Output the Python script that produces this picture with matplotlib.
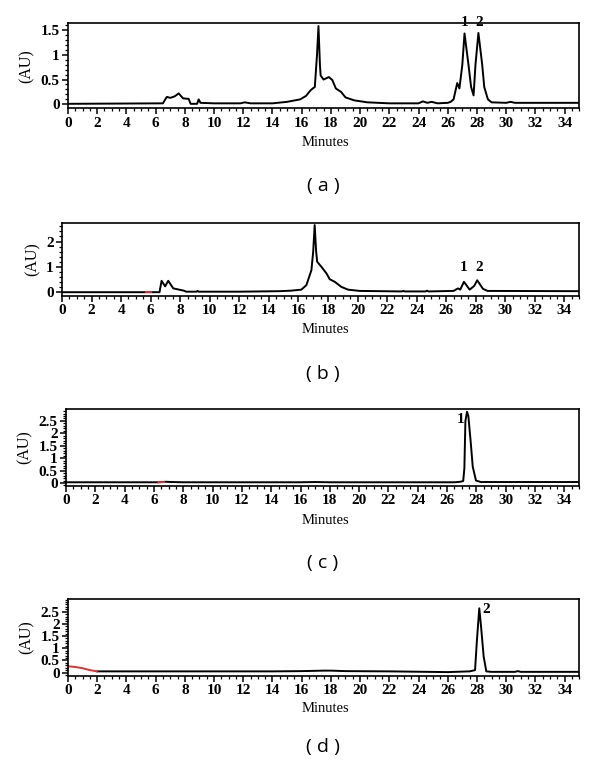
import matplotlib
matplotlib.use("Agg")
import matplotlib.pyplot as plt
from matplotlib.ticker import MultipleLocator

plt.rcParams['font.family'] = ['Liberation Serif', 'DejaVu Serif']

# chromatogram (a)
ta = [0, 6.5, 6.7, 6.78, 7.0, 7.3, 7.58, 7.88, 8.26, 8.4, 8.84, 8.95, 9.07, 10, 11.8, 12.1, 12.5,
      14, 15, 15.9, 16.3, 16.6, 16.76, 16.9, 17.05, 17.15, 17.25, 17.3, 17.5, 17.86, 18.1, 18.34,
      18.7, 19.0, 19.6, 20.5, 22, 24.0, 24.3, 24.6, 24.9, 25.3, 26.0, 26.2, 26.4, 26.65, 26.8,
      27.0, 27.15, 27.42, 27.6, 27.77, 27.9, 28.1, 28.36, 28.5, 28.75, 29.0, 30.0, 30.3, 30.6, 35]
va = [0.01, 0.02, 0.12, 0.15, 0.13, 0.16, 0.22, 0.12, 0.11, 0.01, 0.01, 0.1, 0.03, 0.02, 0.02, 0.04, 0.02,
      0.02, 0.05, 0.1, 0.17, 0.28, 0.32, 0.35, 1.0, 1.58, 0.8, 0.58, 0.5, 0.55, 0.49, 0.32,
      0.25, 0.14, 0.08, 0.04, 0.02, 0.02, 0.06, 0.03, 0.05, 0.02, 0.03, 0.05, 0.1, 0.43, 0.32,
      0.8, 1.43, 0.8, 0.35, 0.18, 0.8, 1.44, 0.8, 0.35, 0.1, 0.04, 0.03, 0.05, 0.03, 0.03]

# chromatogram (b)
tb = [0, 5.7, 6.0, 6.6, 6.74, 6.98, 7.19, 7.53, 8.25, 8.4, 9.1, 9.17, 9.25, 12, 14.74, 15.5, 16.2,
      16.54, 16.88, 17.0, 17.1, 17.2, 17.27, 17.56, 17.9, 18.12, 18.46, 18.9, 19.36, 20.15, 23.0,
      23.1, 23.2, 24.6, 24.7, 24.8, 26.5, 26.8, 26.95, 27.2, 27.59, 27.9, 28.1, 28.49, 28.8, 35]
vb = [0.0, 0.0, 0.0, 0.0, 0.45, 0.23, 0.45, 0.15, 0.06, 0.02, 0.02, 0.05, 0.02, 0.02, 0.04, 0.06, 0.1,
      0.28, 0.87, 1.6, 2.65, 1.6, 1.2, 1.0, 0.74, 0.51, 0.41, 0.21, 0.1, 0.05, 0.03,
      0.05, 0.03, 0.03, 0.06, 0.03, 0.05, 0.15, 0.1, 0.41, 0.1, 0.25, 0.47, 0.13, 0.05, 0.04]
tb_red = [5.7, 6.0]
vb_red = [0.0, 0.0]

# chromatogram (c)
tc = [0, 6.3, 6.8, 7.2, 8, 16, 17, 18, 26.5, 26.9, 27.1, 27.18, 27.25, 27.36, 27.45, 27.6, 27.75,
      27.97, 28.3, 35]
vc = [0.03, 0.03, 0.05, 0.04, 0.03, 0.03, 0.04, 0.03, 0.03, 0.05, 0.08, 0.6, 2.5, 2.87, 2.7, 1.73, 0.66,
      0.1, 0.04, 0.04]
tc_red = [6.3, 6.7]
vc_red = [0.03, 0.04]

# chromatogram (d)
td = [2.0, 5, 10, 14, 16, 17.5, 18, 19, 22, 26, 27.5, 27.87, 28.0, 28.16, 28.28, 28.46, 28.64, 29,
      30.6, 30.8, 31.0, 35]
vd = [0.05, 0.05, 0.05, 0.05, 0.06, 0.08, 0.08, 0.06, 0.05, 0.02, 0.05, 0.1, 1.34, 2.64, 1.9, 0.66, 0.05,
      0.03, 0.03, 0.06, 0.03, 0.03]
td_red = [0, 0.5, 1.0, 1.5, 2.0]
vd_red = [0.26, 0.23, 0.18, 0.1, 0.05]

fig = plt.figure(figsize=(6, 7.68), dpi=100)

def panel(rect, t, v, ylim, yticks, ylabels, yminor, red=None):
    ax = fig.add_axes(rect)
    ax.plot(t, v, color='black', lw=1.4)
    if red is not None:
        ax.plot(red[0], red[1], color='#e03030', lw=1.4)
    ax.set_xlim(0, 35)
    ax.set_ylim(*ylim)
    ax.set_xticks(range(0, 35, 2))
    ax.xaxis.set_minor_locator(MultipleLocator(0.5))
    ax.set_yticks(yticks)
    ax.set_yticklabels(ylabels)
    ax.yaxis.set_minor_locator(MultipleLocator(yminor))
    ax.tick_params(which='major', direction='out', length=4, width=1.1, labelsize=11, pad=2)
    ax.tick_params(which='minor', direction='out', length=2, width=0.9)
    for lab in ax.get_xticklabels() + ax.get_yticklabels():
        lab.set_fontweight('bold')
    for s in ax.spines.values():
        s.set_linewidth(1.2)
    ax.set_ylabel('(AU)', fontsize=11.5, labelpad=4)
    return ax

ax = panel([0.1133, 0.859, 0.852, 0.111], ta, va, (-0.08, 1.64), [0, 0.5, 1, 1.5],
           ['0', '0.5', '1', '1.5'], 0.1)
ax.text(27.15, 1.51, '1', ha='center', va='bottom', fontsize=11, fontweight='bold')
ax.text(28.14, 1.51, '2', ha='center', va='bottom', fontsize=11, fontweight='bold')

ax = panel([0.1033, 0.6146, 0.862, 0.095], tb, vb, (-0.15, 2.73), [0, 1, 2],
           ['0', '1', '2'], 0.2, red=(tb_red, vb_red))
ax.text(27.2, 0.72, '1', ha='center', va='bottom', fontsize=11, fontweight='bold')
ax.text(28.2, 0.72, '2', ha='center', va='bottom', fontsize=11, fontweight='bold')

ax = panel([0.11, 0.3672, 0.855, 0.1002], tc, vc, (-0.12, 2.98), [0, 0.5, 1, 1.5, 2, 2.5],
           ['0', '0.5', '1', '1.5', '2', '2.5'], 0.1, red=(tc_red, vc_red))
ax.text(26.95, 2.57, '1', ha='center', va='center', fontsize=11, fontweight='bold')

ax = panel([0.1133, 0.1198, 0.852, 0.1002], td, vd, (-0.14, 3.02), [0, 0.5, 1, 1.5, 2, 2.5],
           ['0', '0.5', '1', '1.5', '2', '2.5'], 0.1, red=(td_red, vd_red))
ax.text(28.6, 2.6, '2', ha='center', va='center', fontsize=11, fontweight='bold')

# x labels and panel captions
for y_min, y_cap, cap in [(143, 186, '( a )'), (329, 374, '( b )'), (520, 563, '( c )'), (708, 747, '( d )')]:
    fig.text(325 / 600, 1 - y_min / 768, 'Minutes', ha='center', va='center', fontsize=10.5)
    fig.text(323 / 600, 1 - y_cap / 768, cap, ha='center', va='center', fontsize=14,
             family='Open Sans')

fig.savefig('out.png', dpi=100)
